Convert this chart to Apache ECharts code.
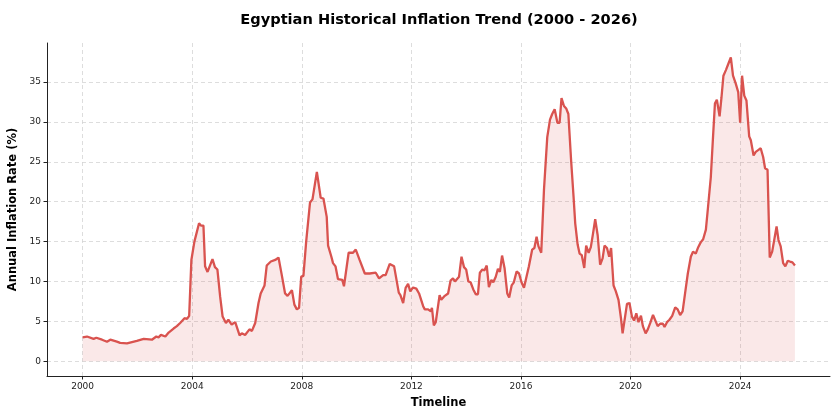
<!DOCTYPE html>
<html>
<head>
<meta charset="utf-8">
<script src="https://cdn.jsdelivr.net/npm/echarts@6/dist/echarts.min.js"></script>
<style>
  html, body { margin: 0; padding: 0; background: #fff; }
  #chart { width: 840px; height: 420px; }
</style>
</head>
<body>
<div id="chart"></div>
<script>
// decimal year of each reading
var years = [
    2000.00, 2000.16, 2000.40, 2000.50, 2000.71, 2000.89, 2001.01, 2001.25, 2001.37, 2001.62,
    2001.80, 2001.98, 2002.23, 2002.53, 2002.69, 2002.77, 2002.86, 2003.02, 2003.14, 2003.32,
    2003.44, 2003.56, 2003.72, 2003.81, 2003.89, 2003.97, 2004.08, 2004.25, 2004.32, 2004.41,
    2004.47, 2004.56, 2004.74, 2004.83, 2004.92, 2005.02, 2005.11, 2005.23, 2005.32, 2005.44,
    2005.57, 2005.73, 2005.81, 2005.93, 2006.09, 2006.18, 2006.30, 2006.42, 2006.50, 2006.64,
    2006.72, 2006.87, 2007.03, 2007.15, 2007.27, 2007.39, 2007.48, 2007.64, 2007.73, 2007.82,
    2007.90, 2007.98, 2008.06, 2008.16, 2008.30, 2008.39, 2008.55, 2008.69, 2008.79, 2008.91,
    2008.96, 2009.08, 2009.14, 2009.23, 2009.32, 2009.48, 2009.54, 2009.71, 2009.87, 2009.97,
    2010.11, 2010.30, 2010.48, 2010.70, 2010.82, 2010.97, 2011.06, 2011.21, 2011.37, 2011.54,
    2011.60, 2011.70, 2011.79, 2011.88, 2011.96, 2012.06, 2012.18, 2012.28, 2012.43, 2012.49,
    2012.61, 2012.71, 2012.75, 2012.82, 2012.89, 2013.03, 2013.09, 2013.22, 2013.34, 2013.43,
    2013.52, 2013.59, 2013.74, 2013.83, 2013.92, 2014.00, 2014.08, 2014.16, 2014.26, 2014.35,
    2014.43, 2014.50, 2014.59, 2014.67, 2014.75, 2014.83, 2014.92, 2014.99, 2015.08, 2015.16,
    2015.23, 2015.31, 2015.40, 2015.50, 2015.57, 2015.66, 2015.74, 2015.84, 2015.93, 2016.02,
    2016.11, 2016.18, 2016.29, 2016.41, 2016.49, 2016.57, 2016.64, 2016.74, 2016.84, 2016.96,
    2017.06, 2017.14, 2017.23, 2017.33, 2017.41, 2017.48, 2017.57, 2017.65, 2017.73, 2017.83,
    2017.92, 2017.98, 2018.07, 2018.14, 2018.22, 2018.31, 2018.38, 2018.47, 2018.55, 2018.63,
    2018.71, 2018.80, 2018.89, 2018.98, 2019.05, 2019.14, 2019.22, 2019.29, 2019.38, 2019.46,
    2019.56, 2019.65, 2019.71, 2019.78, 2019.87, 2019.96, 2020.05, 2020.13, 2020.21, 2020.29,
    2020.38, 2020.45, 2020.55, 2020.63, 2020.72, 2020.82, 2020.89, 2020.99, 2021.08, 2021.18,
    2021.24, 2021.33, 2021.42, 2021.52, 2021.63, 2021.72, 2021.81, 2021.90, 2021.99, 2022.09,
    2022.20, 2022.28, 2022.38, 2022.47, 2022.56, 2022.65, 2022.75, 2022.83, 2022.93, 2023.01,
    2023.08, 2023.15, 2023.25, 2023.32, 2023.39, 2023.48, 2023.57, 2023.66, 2023.74, 2023.84,
    2023.93, 2024.00, 2024.07, 2024.15, 2024.23, 2024.33, 2024.39, 2024.49, 2024.57, 2024.67,
    2024.75, 2024.84, 2024.91, 2025.00, 2025.08, 2025.17, 2025.24, 2025.33, 2025.40, 2025.48,
    2025.57, 2025.65, 2025.74, 2025.82, 2025.91, 2026.00
];
// annual inflation rate (%) at those dates
var rates = [
    3.0, 3.1, 2.8, 2.95, 2.7, 2.45, 2.7, 2.45, 2.3, 2.25,
    2.4, 2.55, 2.8, 2.7, 3.1, 3.0, 3.3, 3.1, 3.6, 4.1,
    4.4, 4.8, 5.4, 5.3, 5.7, 12.7, 15.0, 17.3, 17.0, 17.0,
    11.9, 11.2, 12.8, 11.8, 11.5, 8.1, 5.6, 4.8, 5.2, 4.6,
    4.9, 3.25, 3.5, 3.3, 4.0, 3.8, 4.8, 7.3, 8.5, 9.5,
    12.0, 12.5, 12.7, 13.0, 10.8, 8.5, 8.2, 8.9, 7.1, 6.5,
    6.7, 10.6, 10.7, 15.0, 19.9, 20.3, 23.75, 20.5, 20.4, 18.1,
    14.5, 13.1, 12.3, 11.9, 10.3, 10.2, 9.4, 13.6, 13.6, 14.0,
    12.7, 11.0, 11.0, 11.1, 10.4, 10.8, 10.8, 12.2, 11.9, 8.6,
    8.3, 7.3, 9.2, 9.7, 8.75, 9.25, 9.1, 8.5, 6.9, 6.5,
    6.5, 6.25, 6.7, 4.5, 4.9, 8.3, 7.7, 8.2, 8.5, 10.1,
    10.4, 10.0, 10.6, 13.1, 11.8, 11.5, 10.0, 9.9, 9.0, 8.4,
    8.4, 11.1, 11.5, 11.4, 12.0, 9.3, 10.2, 9.9, 10.6, 11.6,
    11.2, 13.25, 11.7, 8.5, 8.0, 9.5, 9.9, 11.25, 11.0, 9.9,
    9.2, 9.4, 11.9, 14.0, 14.2, 15.6, 14.4, 13.6, 21.5, 28.1,
    30.3, 31.0, 31.6, 29.9, 29.9, 33.0, 32.0, 31.7, 31.0, 25.2,
    20.6, 17.3, 14.6, 13.5, 13.3, 11.7, 14.5, 13.6, 14.3, 16.0,
    17.8, 15.8, 12.1, 12.9, 14.5, 14.2, 13.1, 14.2, 9.5, 8.8,
    7.7, 5.4, 3.5, 3.75, 7.2, 7.3, 5.6, 5.1, 6.0, 4.9,
    5.7, 4.4, 3.5, 4.0, 4.8, 5.8, 5.6, 4.4, 4.7, 4.7,
    4.3, 4.9, 5.2, 5.7, 6.75, 6.5, 5.8, 6.25, 8.5, 11.0,
    13.1, 13.75, 13.5, 14.3, 14.9, 15.3, 16.5, 19.4, 23.1, 28.1,
    32.3, 32.8, 30.7, 33.1, 35.8, 36.5, 37.3, 38.1, 35.8, 34.8,
    33.75, 29.9, 35.8, 33.3, 32.7, 28.2, 27.7, 25.8, 26.25, 26.5,
    26.7, 25.6, 24.2, 24.0, 13.0, 13.75, 14.0, 16.9, 15.2, 14.4,
    12.3, 11.9, 12.6, 12.5, 12.4, 12.0
];
var xTicks = [2000, 2004, 2008, 2012, 2016, 2020, 2024];
var yTicks = [0, 5, 10, 15, 20, 25, 30, 35];

var chart = echarts.init(document.getElementById('chart'));

var seriesData = [];
for (var i = 0; i < years.length; i++) {
    seriesData.push([years[i], rates[i]]);
}

var font = 'DejaVu Sans';
var gridLine = { show: true, lineStyle: { color: '#d4d4d4', type: [4, 3], width: 0.8 } };

chart.setOption({
    animation: false,
    title: {
        text: 'Egyptian Historical Inflation Trend (2000 - 2026)',
        left: 434,
        top: 8,
        textAlign: 'center',
        textStyle: { fontFamily: font, fontSize: 14.6, fontWeight: 'bold', color: '#000' }
    },
    grid: { left: 47, right: 10, top: 43, bottom: 44, outerBoundsMode: 'none' },
    xAxis: {
        type: 'value',
        min: 1998.7,
        max: 2027.28,
        name: 'Timeline',
        nameLocation: 'middle',
        nameGap: 21,
        nameTextStyle: { fontFamily: font, fontSize: 11.5, fontWeight: 'bold', color: '#000' },
        axisLine: { onZero: false, lineStyle: { color: '#222', width: 1 } },
        axisTick: { customValues: xTicks, length: 3.5, lineStyle: { color: '#222' } },
        axisLabel: {
            customValues: xTicks,
            fontFamily: font, fontSize: 9, color: '#222', margin: 6,
            formatter: function (v) { return String(Math.round(v)); }
        },
        splitLine: gridLine
    },
    yAxis: {
        type: 'value',
        min: -1.85,
        max: 39.9,
        name: 'Annual Inflation Rate (%)',
        nameLocation: 'middle',
        nameGap: 24,
        nameTextStyle: { fontFamily: font, fontSize: 11.5, fontWeight: 'bold', color: '#000' },
        axisLine: { show: true, onZero: false, lineStyle: { color: '#222', width: 1 } },
        axisTick: { show: true, customValues: yTicks, length: 3.5, lineStyle: { color: '#222' } },
        axisLabel: { customValues: yTicks, fontFamily: font, fontSize: 9, color: '#222', margin: 6 },
        splitLine: gridLine
    },
    series: [{
        type: 'line',
        data: seriesData,
        showSymbol: false,
        lineStyle: { color: '#d9534f', width: 2.3 },
        itemStyle: { color: '#d9534f' },
        areaStyle: { color: 'rgba(217, 83, 79, 0.19)', origin: 0 }
    }]
});
</script>
</body>
</html>
